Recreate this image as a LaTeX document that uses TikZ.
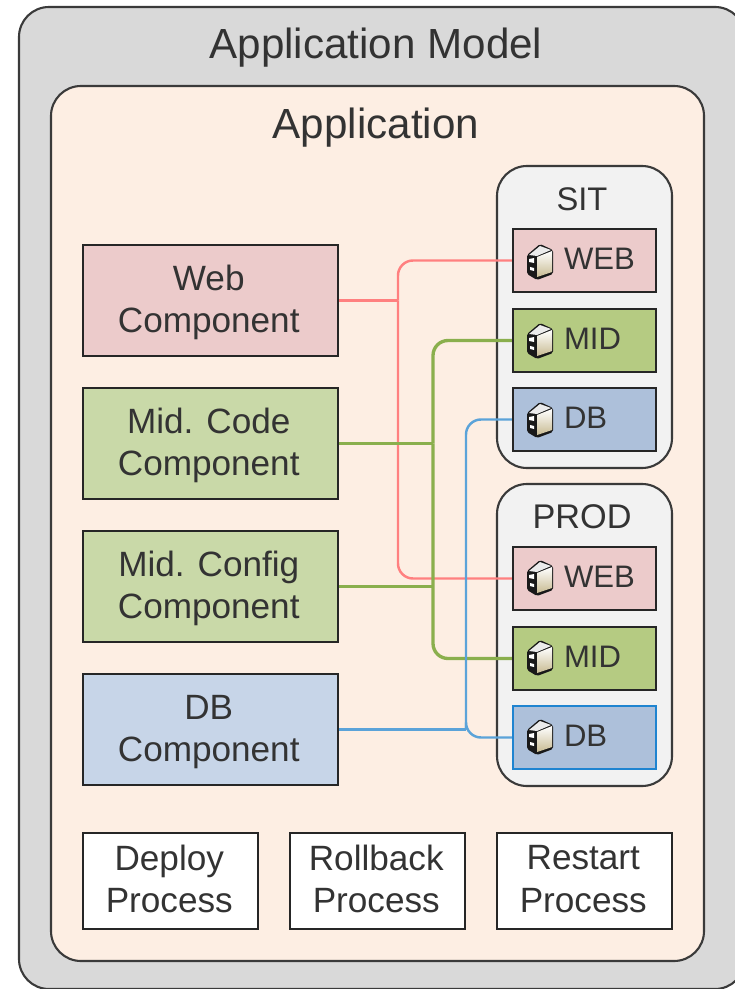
\documentclass[tikz,border=0pt]{standalone}
\usepackage{fontspec}
\setmainfont{Liberation Sans}
\definecolor{modelgray}{HTML}{D9D9D9}
\definecolor{appcream}{HTML}{FDEEE3}
\definecolor{envgray}{HTML}{F2F2F2}
\definecolor{webpink}{HTML}{ECCBCB}
\definecolor{midgreen}{HTML}{C9D9A8}
\definecolor{dbblue}{HTML}{C7D5E8}
\definecolor{midolive}{HTML}{B5CB82}
\definecolor{dbsteel}{HTML}{ADC0DA}
\definecolor{edgegray}{HTML}{3A3A3A}
\definecolor{redline}{HTML}{FF8080}
\definecolor{greenline}{HTML}{8AAF4D}
\definecolor{blueline}{HTML}{5BA3D9}
\definecolor{dbborder}{HTML}{1F84D0}
\definecolor{servercream}{HTML}{C8BB92}
\tikzset{
  panel/.style={draw=edgegray,line width=1.2pt,rounded corners=0.6cm,inner sep=0pt},
  title/.style={inner sep=0pt,text=black!80,font=\fontsize{#1}{#1}\selectfont},
  box/.style={draw=black!85,line width=1.3pt,inner sep=0pt,align=center,text=black!80,
    font=\fontsize{20}{24.2}\selectfont},
  component/.style={box,minimum width=5.1cm,minimum height=2.22cm,fill=#1,
    execute at begin node={\hspace*{-0.07cm}\rule{0pt}{41pt}}},
  process/.style={box,fill=white,minimum width=3.5cm,minimum height=1.92cm,
    execute at begin node={\hspace*{-0.05cm}},
    execute at end node={\rule[-2.5pt]{0pt}{0pt}}},
  envitem/.style={box,fill=#1,minimum height=1.26cm,text width=2.86cm,align=left,
    font=\fontsize{17.7}{20}\selectfont,execute at begin node={\hspace*{1.02cm}},
    execute at end node={\rule[-2.3pt]{0pt}{0pt}}},
  wire/.style={draw=#1,line width=1.4pt,rounded corners=0.3cm},
  servericon/.pic={
    \fill[black!90,rounded corners=1pt] (-13,-7) -- (0,-18) -- (13,-12) -- (13,12) -- (-3,18) -- (-13,12) -- cycle;
    \fill[black!8] (-11,-7) -- (0,-16) -- (11,-12) -- (-3,-6) -- cycle;
    \shade[top color=white,bottom color=servercream] (-3,-5) -- (12,-11) -- (12,10) -- (-3,15) -- cycle;
    \fill[white] (-11,-3) -- (-6,-4) -- (-6,1) -- (-11,0) -- cycle;
    \fill[white] (-10,5) -- (-6,6) -- (-6,9) -- (-10,8) -- cycle;
  }
}
\begin{document}
\begin{tikzpicture}[x=0.02cm,y=-0.02cm]
  \useasboundingbox (0,0) rectangle (734,989);
  \coordinate (modelNW) at (19,7);
  \coordinate (modelSE) at (745,989);
  \coordinate (appNW) at (51,86);
  \coordinate (appSE) at (704,961);
  \draw[panel,fill=modelgray] (modelNW) rectangle (modelSE);
  \draw[panel,fill=appcream] (appNW) rectangle (appSE);
  \node[title=24] (model) at (376,48) {Application Model};
  \node[title=24] (app) at (376,128) {Application};
  \draw[panel,fill=envgray] (497,166) rectangle (672,468);
  \draw[panel,fill=envgray] (497,484) rectangle (672,786);
  \node[title=18.6] (sit) at (582,199) {SIT};
  \node[title=19.5] (prod) at (582,517) {PROD};
  \node[component=webpink] (webcomp) at (210.5,300.5) {Web\\Component};
  \node[component=midgreen] (midcode) at (210.5,443.5) {Mid. Code\\Component};
  \node[component=midgreen] (midconf) at (210.5,586.5) {Mid. Config\\Component};
  \node[component=dbblue] (dbcomp) at (210.5,729.5) {DB\\Component};
  \node[process] (deploy) at (170.5,881) {Deploy\\Process};
  \node[process] (rollback) at (377.5,881) {Rollback\\Process};
  \node[process] (restart) at (584.5,881) {Restart\\Process};
  \node[envitem=webpink] (sitweb) at (584.5,260.5) {WEB};
  \node[envitem=midolive] (sitmid) at (584.5,340.5) {MID};
  \node[envitem=dbsteel] (sitdb) at (584.5,419.5) {DB};
  \node[envitem=webpink] (prodweb) at (584.5,578.5) {WEB};
  \node[envitem=midolive] (prodmid) at (584.5,658.5) {MID};
  \node[envitem=dbsteel,draw=dbborder] (proddb) at (584.5,737.5) {DB};
  \coordinate (webjoin) at (398,300.5);
  \coordinate (midjoin) at (433,443.5);
  \coordinate (confjoin) at (433,586.5);
  \coordinate (dbjoin) at (466,729.5);
  \draw[wire=redline] (webcomp.east) -- (webjoin);
  \draw[wire=redline] (webjoin) |- (sitweb.west);
  \draw[wire=redline] (webjoin) |- (prodweb.west);
  \draw[wire=greenline] (midcode.east) -- (midjoin);
  \draw[wire=greenline] (midconf.east) -- (confjoin);
  \draw[wire=greenline,line width=1.9pt] (midjoin) |- (sitmid.west);
  \draw[wire=greenline,line width=1.9pt] (midjoin) |- (prodmid.west);
  \draw[wire=blueline] (dbcomp.east) -- (dbjoin);
  \draw[wire=blueline] (dbjoin) |- (sitdb.west);
  \draw[wire=blueline] (dbjoin) |- (proddb.west);
  \foreach \y in {262,341,420,578,658,737}
    \pic at (540,\y) {servericon};
\end{tikzpicture}
\end{document}
